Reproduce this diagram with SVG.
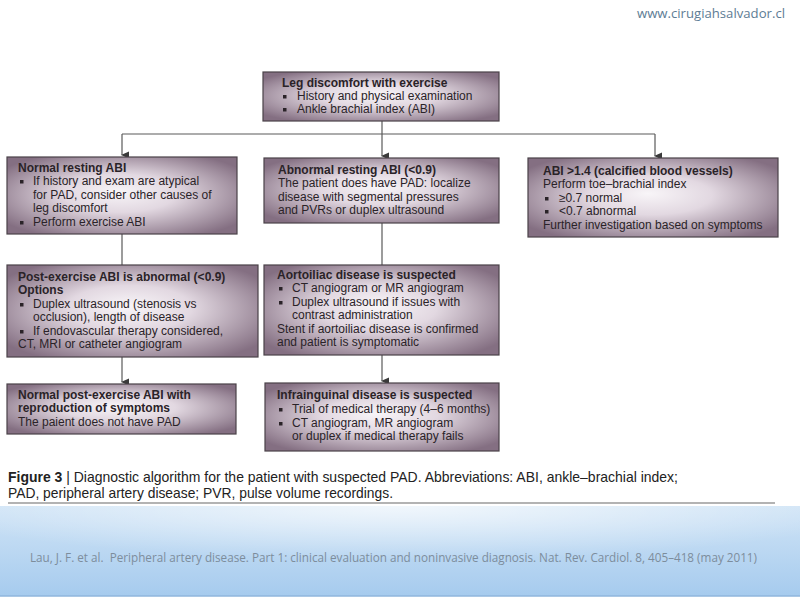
<svg xmlns="http://www.w3.org/2000/svg" width="800" height="600" viewBox="0 0 800 600">
<style>
.box{fill:url(#g);stroke:#4a4248;stroke-width:1.2}
.t{font-family:"Liberation Sans",Arial,sans-serif;font-size:12px;fill:#2a2328}
.b{font-weight:bold}
.c{stroke:#5a5a5a;stroke-width:1.2;fill:none}
.bl{fill:#2a2328}
.cap{font-family:"Liberation Sans",Arial,sans-serif;font-size:15px;fill:#222}
</style>
<defs>
<radialGradient id="g" cx="50%" cy="50%" r="62%" fx="48%" fy="45%">
<stop offset="0" stop-color="#f8f5f8"/>
<stop offset="0.4" stop-color="#e2d8e1"/>
<stop offset="1" stop-color="#846f82"/>
</radialGradient>
<linearGradient id="band" x1="0" y1="0" x2="0" y2="1">
<stop offset="0" stop-color="#d0e4f6"/>
<stop offset="1" stop-color="#a6cbee"/>
</linearGradient>
<radialGradient id="bandhl" cx="50%" cy="0%" r="60%">
<stop offset="0" stop-color="#ffffff" stop-opacity="0.7"/>
<stop offset="1" stop-color="#ffffff" stop-opacity="0"/>
</radialGradient>
<marker id="ar" markerWidth="8" markerHeight="8" refX="4" refY="7" orient="auto" markerUnits="userSpaceOnUse">
<path d="M0.5,0 L7.5,0 L4,8 Z" fill="#3a3a3a"/>
</marker>
</defs>
<rect width="800" height="600" fill="#ffffff"/>
<text x="637" y="18" font-family="'Open Sans','Liberation Sans',Arial,sans-serif" font-size="13" fill="#5d7c94" textLength="148" lengthAdjust="spacingAndGlyphs">www.cirugiahsalvador.cl</text>

<g id="connectors">
<path class="c" d="M382,121 V134"/>
<path class="c" d="M122,134 H655"/>
<path class="c" d="M122,134 V155" marker-end="url(#ar)"/>
<path class="c" d="M382,134 V156" marker-end="url(#ar)"/>
<path class="c" d="M655,134 V156" marker-end="url(#ar)"/>
<path class="c" d="M122,234 V265"/>
<path class="c" d="M382,223 V265"/>
<path class="c" d="M122,357 V382" marker-end="url(#ar)"/>
<path class="c" d="M382,355 V381" marker-end="url(#ar)"/>
</g>

<g id="n-top">
<rect class="box" x="263" y="72" width="236" height="49"/>
<text class="t b" x="282" y="87">Leg discomfort with exercise</text>
<rect class="bl" x="283" y="95" width="3.5" height="3.5"/>
<text class="t" x="297" y="100">History and physical examination</text>
<rect class="bl" x="283" y="108" width="3.5" height="3.5"/>
<text class="t" x="297" y="113">Ankle brachial index (ABI)</text>
</g>

<g id="n-normal">
<rect class="box" x="7" y="157" width="230" height="77"/>
<text class="t b" x="18" y="172">Normal resting ABI</text>
<rect class="bl" x="20" y="180" width="3.5" height="3.5"/>
<text class="t" x="33" y="185">If history and exam are atypical</text>
<text class="t" x="33" y="199">for PAD, consider other causes of</text>
<text class="t" x="33" y="212">leg discomfort</text>
<rect class="bl" x="20" y="221" width="3.5" height="3.5"/>
<text class="t" x="33" y="226">Perform exercise ABI</text>
</g>

<g id="n-abnormal">
<rect class="box" x="264" y="158" width="235" height="65"/>
<text class="t b" x="278" y="174">Abnormal resting ABI (&lt;0.9)</text>
<text class="t" x="278" y="187">The patient does have PAD: localize</text>
<text class="t" x="278" y="201">disease with segmental pressures</text>
<text class="t" x="278" y="214">and PVRs or duplex ultrasound</text>
</g>

<g id="n-calcified">
<rect class="box" x="528" y="158" width="250" height="79"/>
<text class="t b" x="543" y="175">ABI &gt;1.4 (calcified blood vessels)</text>
<text class="t" x="543" y="188">Perform toe–brachial index</text>
<rect class="bl" x="545" y="197" width="3.5" height="3.5"/>
<text class="t" x="559" y="202">≥0.7 normal</text>
<rect class="bl" x="545" y="210" width="3.5" height="3.5"/>
<text class="t" x="559" y="215">&lt;0.7 abnormal</text>
<text class="t" x="543" y="229">Further investigation based on symptoms</text>
</g>

<g id="n-postex">
<rect class="box" x="7" y="265" width="251" height="92"/>
<text class="t b" x="18" y="281">Post-exercise ABI is abnormal (&lt;0.9)</text>
<text class="t b" x="18" y="294">Options</text>
<rect class="bl" x="20" y="303" width="3.5" height="3.5"/>
<text class="t" x="33" y="308">Duplex ultrasound (stenosis vs</text>
<text class="t" x="33" y="321">occlusion), length of disease</text>
<rect class="bl" x="20" y="330" width="3.5" height="3.5"/>
<text class="t" x="33" y="335">If endovascular therapy considered,</text>
<text class="t" x="18" y="348">CT, MRI or catheter angiogram</text>
</g>

<g id="n-aorto">
<rect class="box" x="264" y="265" width="235" height="90"/>
<text class="t b" x="277" y="279">Aortoiliac disease is suspected</text>
<rect class="bl" x="279" y="287" width="3.5" height="3.5"/>
<text class="t" x="292" y="292">CT angiogram or MR angiogram</text>
<rect class="bl" x="279" y="301" width="3.5" height="3.5"/>
<text class="t" x="292" y="306">Duplex ultrasound if issues with</text>
<text class="t" x="292" y="319">contrast administration</text>
<text class="t" x="277" y="333">Stent if aortoiliac disease is confirmed</text>
<text class="t" x="277" y="346">and patient is symptomatic</text>
</g>

<g id="n-normalpost">
<rect class="box" x="7" y="384" width="229" height="50"/>
<text class="t b" x="18" y="399">Normal post-exercise ABI with</text>
<text class="t b" x="18" y="412">reproduction of symptoms</text>
<text class="t" x="18" y="426">The paient does not have PAD</text>
</g>

<g id="n-infra">
<rect class="box" x="265" y="383" width="234" height="68"/>
<text class="t b" x="277" y="399">Infrainguinal disease is suspected</text>
<rect class="bl" x="279" y="408" width="3.5" height="3.5"/>
<text class="t" x="292" y="413">Trial of medical therapy (4–6 months)</text>
<rect class="bl" x="279" y="422" width="3.5" height="3.5"/>
<text class="t" x="292" y="427">CT angiogram, MR angiogram</text>
<text class="t" x="292" y="440">or duplex if medical therapy fails</text>
</g>

<text class="cap" x="8" y="482" textLength="670" lengthAdjust="spacingAndGlyphs"><tspan font-weight="bold">Figure 3</tspan> | Diagnostic algorithm for the patient with suspected PAD. Abbreviations: ABI, ankle–brachial index;</text>
<text class="cap" x="8" y="498" textLength="385" lengthAdjust="spacingAndGlyphs">PAD, peripheral artery disease; PVR, pulse volume recordings.</text>
<line x1="8" y1="503" x2="775" y2="503" stroke="#9a9a9a" stroke-width="1.5"/>

<rect x="0" y="506" width="800" height="90" fill="url(#band)"/>
<rect x="0" y="506" width="800" height="90" fill="url(#bandhl)"/>
<line x1="0" y1="596" x2="800" y2="596" stroke="#8fb6dc" stroke-width="1.5"/>
<text x="30" y="562" xml:space="preserve" font-family="'Open Sans','Liberation Sans',sans-serif" font-size="12" fill="#7d8d9c" textLength="727" lengthAdjust="spacingAndGlyphs">Lau, J. F. et al.  Peripheral artery disease. Part 1: clinical evaluation and noninvasive diagnosis. Nat. Rev. Cardiol. 8, 405–418 (may 2011)</text>
</svg>
